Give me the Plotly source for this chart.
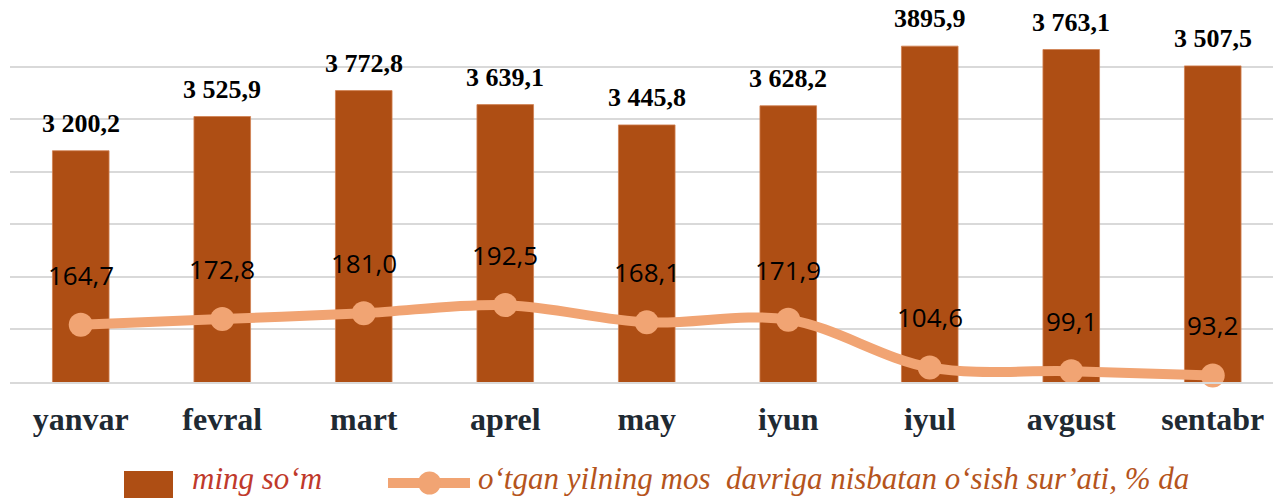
import plotly.graph_objects as go

# ---------------- data ----------------
months = ["yanvar", "fevral", "mart", "aprel", "may", "iyun", "iyul", "avgust", "sentabr"]
# printed values (ming so'm)
ming_som_labels = ["3 200,2", "3 525,9", "3 772,8", "3 639,1", "3 445,8", "3 628,2", "3895,9", "3 763,1", "3 507,5"]
# bar heights as drawn in the picture (read against the gridlines, 1000..4500 step 500)
ming_som = [3200.2, 3525.9, 3772.8, 3639.1, 3445.8, 3628.2, 4196.0, 4164.0, 4008.0]
# growth rate, % (line, secondary axis)
osish = [164.7, 172.8, 181.0, 192.5, 168.1, 171.9, 104.6, 99.1, 93.2]
osish_labels = ["164,7", "172,8", "181,0", "192,5", "168,1", "171,9", "104,6", "99,1", "93,2"]

legend_bar = "ming soʻm"
legend_line = "oʻtgan yilning mos  davriga nisbatan oʻsish surʼati, % da"

# ---------------- styles ----------------
BAR_COLOR = "#AE4E14"
LINE_COLOR = "#F1A473"
GRID_COLOR = "#D9D9D9"

W, H = 1273, 498
L, R, T, B = 10, 1273, 14, 382


def px2x(px):
    return (px - L) / (R - L)


def py2y(py):
    return (B - py) / (B - T)


fig = go.Figure()

fig.add_trace(go.Bar(
    x=months, y=ming_som, name=legend_bar,
    marker=dict(color=BAR_COLOR, line=dict(color="#D08050", width=0.8)),
    width=0.40, showlegend=False, hoverinfo="skip",
))

fig.add_trace(go.Scatter(
    x=months, y=osish, name=legend_line, yaxis="y2",
    mode="lines+markers",
    line=dict(color=LINE_COLOR, width=10, shape="spline", smoothing=1.0),
    marker=dict(color=LINE_COLOR, size=24),
    showlegend=False, hoverinfo="skip", cliponaxis=False,
))

annotations = []
for m, v, t in zip(months, ming_som, ming_som_labels):
    annotations.append(dict(
        x=m, y=v, xref="x", yref="y", text=t, showarrow=False,
        yanchor="bottom", yshift=11,
        font=dict(family="Liberation Serif", size=26, color="#000000", weight="bold"),
    ))
for m, v, t in zip(months, osish, osish_labels):
    annotations.append(dict(
        x=m, y=v, xref="x", yref="y2", text=t, showarrow=False,
        xanchor="center", yanchor="bottom", yshift=30,
        font=dict(family="Open Sans", size=26, color="#000000"),
    ))

# custom legend
annotations.append(dict(
    x=px2x(190), y=py2y(478), xref="paper", yref="paper", xanchor="left", yanchor="middle",
    text="<i>" + legend_bar + "</i>", showarrow=False,
    font=dict(family="Liberation Serif", size=31, color="#C0392B"),
))
annotations.append(dict(
    x=px2x(476), y=py2y(478), xref="paper", yref="paper", xanchor="left", yanchor="middle",
    text="<i>" + legend_line + "</i>", showarrow=False,
    font=dict(family="Liberation Serif", size=31, color="#B5541C"),
))

shapes = [
    dict(type="rect", xref="paper", yref="paper",
         x0=px2x(124), x1=px2x(173), y0=py2y(502), y1=py2y(471),
         fillcolor=BAR_COLOR, line=dict(width=0)),
    dict(type="line", xref="paper", yref="paper",
         x0=px2x(388), x1=px2x(470), y0=py2y(483), y1=py2y(483),
         line=dict(color=LINE_COLOR, width=10)),
    dict(type="circle", xref="paper", yref="paper",
         x0=px2x(418), x1=px2x(441), y0=py2y(494.5), y1=py2y(471.5),
         fillcolor=LINE_COLOR, line=dict(width=0)),
]

fig.update_layout(
    width=W, height=H,
    margin=dict(l=L, r=W - R, t=T, b=H - B),
    paper_bgcolor="white", plot_bgcolor="white",
    showlegend=False,
    annotations=annotations,
    shapes=shapes,
    xaxis=dict(
        type="category", range=[-0.5, 8.5 - 10.5 / 141.5],
        showgrid=False, zeroline=False,
        showline=True, linecolor=GRID_COLOR, linewidth=2,
        ticks="", ticklabelstandoff=8,
        tickfont=dict(family="Liberation Serif", size=32, color="#1F2A33", weight="bold"),
    ),
    yaxis=dict(
        range=[998, 4502], dtick=500, tick0=1000,
        showgrid=True, gridcolor=GRID_COLOR, gridwidth=2,
        zeroline=False, showticklabels=False, showline=False,
    ),
    yaxis2=dict(
        overlaying="y", side="right", range=[84, 603],
        showgrid=False, zeroline=False, showticklabels=False, showline=False,
    ),
)

fig.write_html(
    "out.html",
    config={"displayModeBar": False},
    post_script="document.body.style.margin='0';document.body.style.overflow='hidden';",
)
